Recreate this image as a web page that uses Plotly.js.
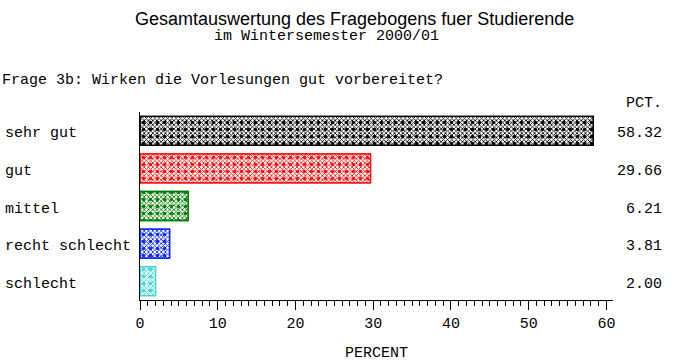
<!DOCTYPE html>
<html>
<head>
<meta charset="utf-8">
<script src="https://cdn.plot.ly/plotly-3.0.1.min.js"></script>
<style>
  html, body { margin: 0; padding: 0; background: #fff; }
  #chart { width: 685px; height: 364px; }
</style>
</head>
<body>
<div id="chart"></div>
<script>
const categories = ["sehr gut", "gut", "mittel", "recht schlecht", "schlecht"];
const percents = [58.32, 29.66, 6.21, 3.81, 2.00];
const barColors = ["#000000", "#ff1010", "#008000", "#0a28ff", "#40d8d0"];
const xTicks = [0, 10, 20, 30, 40, 50, 60];

const mono = "Liberation Mono, Courier New, monospace";
const sans = "Liberation Sans, Arial, sans-serif";

const hatch = {
  type: "bar", orientation: "h",
  x: percents, y: categories,
  width: 0.77,
  marker: {
    color: "#ffffff",
    line: { color: barColors, width: 1.3 },
    pattern: { shape: "x", size: 3, solidity: 0.48, fgcolor: barColors, bgcolor: "#ffffff", fillmode: "replace" }
  },
  hoverinfo: "x+y"
};
const dots = {
  type: "bar", orientation: "h",
  x: percents, y: categories,
  width: 0.77,
  marker: {
    color: "rgba(255,255,255,0)",
    line: { color: barColors, width: 1.3 },
    pattern: { shape: ".", size: 7, solidity: 0.2, fgcolor: barColors, bgcolor: "rgba(255,255,255,0)", fillmode: "replace" }
  },
  hoverinfo: "skip"
};

const L = 140, R = 613, T = 112, B = 300;
const pw = R - L, ph = B - T;
const px = (p) => (p - L) / pw;
const py = (p) => (B - p) / ph;

const annotations = [];
annotations.push({ text: "Gesamtauswertung des Fragebogens fuer Studierende", xref: "paper", yref: "paper",
  x: px(354.5), y: py(19), xanchor: "center", yanchor: "middle", showarrow: false,
  font: { family: sans, size: 18, color: "#000" } });
annotations.push({ text: "im Wintersemester 2000/01", xref: "paper", yref: "paper",
  x: px(326), y: py(37), xanchor: "center", yanchor: "middle", showarrow: false,
  font: { family: mono, size: 15, color: "#000" } });
annotations.push({ text: "Frage 3b: Wirken die Vorlesungen gut vorbereitet?", xref: "paper", yref: "paper",
  x: px(0), y: py(81), xanchor: "left", yanchor: "middle", showarrow: false,
  font: { family: mono, size: 15, color: "#000" } });
annotations.push({ text: "PCT.", xref: "paper", yref: "paper",
  x: px(664), y: py(103), xanchor: "right", yanchor: "middle", showarrow: false,
  font: { family: mono, size: 15, color: "#000" } });
categories.forEach((c, i) => {
  annotations.push({ text: c, xref: "paper", yref: "y", x: px(3), y: c, yshift: -3,
    xanchor: "left", yanchor: "middle", showarrow: false,
    font: { family: mono, size: 15, color: "#000" } });
  annotations.push({ text: percents[i].toFixed(2), xref: "paper", yref: "y", x: px(664), y: c, yshift: -3,
    xanchor: "right", yanchor: "middle", showarrow: false,
    font: { family: mono, size: 15, color: "#000" } });
});

const layout = {
  width: 685, height: 364,
  margin: { l: L, r: 685 - R, t: T, b: 364 - B, pad: 0 },
  paper_bgcolor: "#fff", plot_bgcolor: "#fff",
  barmode: "overlay",
  showlegend: false,
  xaxis: {
    range: [0, 60.85], tickvals: xTicks, ticktext: xTicks.map(String),
    ticks: "outside", ticklen: 9, tickwidth: 1, tickcolor: "#000",
    minor: { dtick: 1, ticks: "outside", ticklen: 5, tickwidth: 1, tickcolor: "#000" },
    showline: true, linecolor: "#000", linewidth: 1,
    showgrid: false, zeroline: false,
    tickfont: { family: mono, size: 15, color: "#000" },
    title: { text: "PERCENT", font: { family: mono, size: 15, color: "#000" }, standoff: 14 }
  },
  yaxis: {
    type: "category", categoryorder: "array", categoryarray: categories,
    range: [4.5, -0.5],
    showline: true, linecolor: "#000", linewidth: 1,
    showticklabels: false, ticks: "", showgrid: false, zeroline: false
  },
  annotations: annotations
};

Plotly.newPlot("chart", [hatch, dots], layout, { displayModeBar: false, staticPlot: true });
</script>
</body>
</html>
